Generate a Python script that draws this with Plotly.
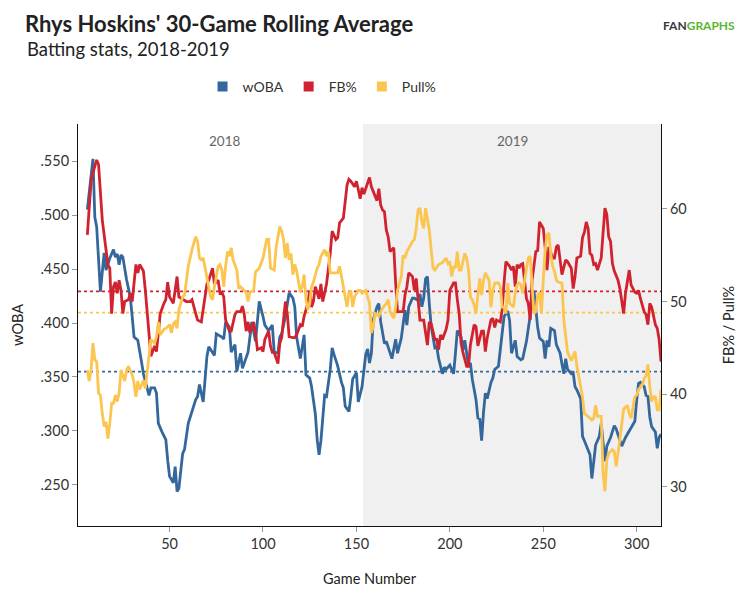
import plotly.graph_objects as go

# ---------------- data ----------------
woba_games = [6,9,10,11,13,15,16,18,20,21,22,23,24,25,27,29,30,31,33,34,35,36,37,39,40,42,43,44,46,48,49,50,52,53,54,55,57,58,60,62,64,65,66,68,70,71,74,75,78,79,
              80,82,83,85,86,88,89,92,93,94,96,97,98,100,101,103,105,106,108,109,110,112,114,116,117,118,120,122,123,125,126,128,129,130,131,133,134,136,137,138,
              140,142,143,144,146,147,148,150,151,153,154,155,156,157,158,159,161,162,163,164,165,166,168,169,171,172,174,176,177,178,180,181,183,184,185,186,187,188,189,190,
              192,193,194,196,197,198,200,201,202,203,204,206,207,208,210,211,212,214,215,216,217,218,219,220,222,223,224,226,228,229,231,232,233,235,236,238,239,241,242,244,
              245,247,248,250,251,252,253,254,256,257,259,260,261,262,263,265,266,267,268,270,271,272,274,275,276,277,278,280,281,283,284,286,288,289,290,292,294,295,297,299,
              300,301,302,304,305,306,307,308,310,311,312,313]
woba = [.505,.552,.498,.489,.429,.465,.449,.460,.468,.461,.464,.454,.463,.461,.440,.424,.406,.387,.384,.372,.364,.353,.347,.333,.340,.340,.335,.307,.299,.292,.273,.258,.252,.267,.244,.247,.279,.283,.307,.319,.329,.332,.343,.327,.369,.378,.370,.390,.387,.385,
        .401,.396,.373,.380,.355,.372,.358,.373,.390,.401,.383,.406,.420,.406,.398,.393,.398,.373,.372,.387,.390,.406,.428,.423,.415,.387,.367,.389,.352,.349,.341,.316,.292,.278,.291,.333,.332,.357,.377,.371,
        .360,.345,.340,.323,.318,.332,.348,.354,.327,.341,.354,.371,.376,.363,.372,.403,.415,.418,.401,.392,.381,.383,.371,.367,.385,.372,.386,.412,.398,.415,.423,.423,.421,.427,.415,.423,.441,.443,.418,.397,
        .377,.378,.367,.353,.359,.357,.361,.357,.353,.372,.393,.387,.375,.384,.360,.363,.348,.329,.312,.311,.291,.317,.335,.330,.345,.349,.357,.360,.393,.406,.411,.402,.372,.384,.369,.366,.367,.383,.395,.420,
        .430,.396,.386,.383,.367,.384,.378,.395,.393,.380,.372,.362,.353,.367,.357,.353,.354,.341,.338,.330,.295,.291,.281,.278,.256,.269,.287,.295,.307,.272,.286,.294,.305,.302,.297,.286,.294,.297,.303,.309,
        .329,.344,.345,.341,.333,.332,.313,.304,.299,.284,.294,.297]

fb_games = [6,7,8,9,11,12,13,14,16,17,18,19,20,21,22,23,24,25,26,28,29,30,32,33,34,36,37,38,39,40,42,43,44,45,47,48,49,50,52,53,54,55,57,59,61,62,64,65,67,68,
            70,71,73,74,76,77,78,79,80,82,83,85,86,88,89,90,91,92,93,95,96,97,99,100,101,103,104,105,106,108,109,110,111,112,113,114,116,117,118,120,121,122,124,125,126,127,128,130,131,132,
            134,135,136,137,139,140,141,143,144,145,146,147,149,150,151,152,153,154,156,157,158,160,161,162,163,164,165,166,167,168,170,171,172,173,175,176,177,178,180,181,182,183,184,186,187,188,189,190,192,193,
            194,195,196,198,199,200,202,203,204,205,206,207,209,210,211,213,214,215,217,218,219,220,222,223,224,225,227,228,229,230,232,233,234,235,236,237,238,239,241,242,243,244,246,247,248,250,251,252,253,255,
            256,257,258,259,260,262,263,265,266,267,268,270,271,272,273,274,275,276,277,278,279,281,282,283,284,285,286,287,288,290,291,292,293,294,295,296,297,299,300,301,302,304,305,306,307,308,310,311,312,313]
fb_pct = [57.2,60.3,63.0,63.9,65.3,64.8,61.5,58.8,55.6,54.0,53.6,48.7,51.6,52.1,50.9,52.3,51.2,48.7,50.0,50.2,50.9,50.0,54.0,53.1,54.0,53.3,51.3,49.1,46.2,44.1,45.2,44.6,46.6,48.7,49.8,50.2,52.1,50.5,49.8,51.6,52.7,50.5,50.2,50.0,50.0,50.2,48.7,48.0,47.8,49.1,
          51.9,52.3,53.6,51.9,52.3,50.9,51.0,50.5,48.0,46.8,46.8,48.6,48.9,48.9,49.5,48.6,46.8,47.8,46.6,47.8,46.6,44.8,45.0,44.6,45.9,46.8,45.2,44.5,44.5,43.3,45.5,46.1,48.0,50.0,48.7,46.2,46.1,46.1,46.4,47.5,47.3,48.4,49.8,51.2,49.4,50.0,51.6,50.3,51.9,50.0,
          51.9,53.6,55.2,57.6,56.7,56.9,58.5,59.0,61.0,62.6,63.2,63.0,62.4,63.0,62.1,61.1,62.3,61.6,62.8,63.4,62.4,61.3,60.9,62.2,60.4,59.9,59.7,57.7,57.0,55.4,55.8,52.0,48.9,48.9,48.9,50.7,51.6,53.1,52.7,51.2,52.5,50.2,48.0,48.0,46.8,45.3,47.8,47.6,45.9,45.9,
          44.8,46.4,45.9,47.0,48.0,51.2,52.0,52.0,50.2,48.7,45.5,44.5,43.0,43.0,45.3,47.5,47.3,45.2,46.8,46.8,44.6,46.1,48.0,48.2,47.2,48.0,47.8,49.1,52.0,54.3,53.8,53.4,53.8,51.6,54.0,53.6,54.0,54.1,50.3,49.8,48.0,52.3,55.4,55.5,58.6,57.9,55.9,53.4,55.9,54.7,
          54.7,55.9,56.1,54.5,52.9,54.5,54.3,53.6,51.4,52.7,54.7,54.9,56.9,57.5,58.6,57.9,55.2,55.0,54.0,54.1,53.4,54.7,57.6,60.1,59.4,57.0,56.5,54.1,53.3,52.3,51.4,50.2,48.7,50.9,52.1,53.4,51.8,51.0,50.9,51.2,50.3,48.9,48.6,47.5,49.8,49.4,47.5,47.1,45.9,43.5]

pull_games = [6,7,8,9,10,11,12,13,14,15,16,17,18,19,20,21,22,23,24,26,27,28,30,31,32,33,34,36,37,38,39,40,42,43,44,45,47,48,50,51,52,53,54,55,57,58,60,61,62,64,
              65,66,67,68,70,71,72,73,74,76,77,78,79,80,81,82,83,84,86,87,88,90,91,92,93,95,96,98,99,100,102,103,104,106,107,108,109,110,111,112,113,114,115,116,117,118,119,120,121,122,
              123,124,125,126,127,129,130,131,133,134,135,136,138,140,141,142,143,144,145,146,147,148,149,151,152,153,155,156,157,158,159,160,162,163,164,166,167,168,170,171,172,174,175,176,177,179,180,181,182,183,
              184,185,186,187,189,190,191,192,194,195,196,198,199,200,201,202,203,204,205,206,208,209,210,211,212,213,214,215,216,217,218,219,221,222,223,224,226,227,228,229,230,231,232,234,235,236,237,238,239,241,
              242,243,244,245,246,247,248,249,250,251,252,253,254,255,256,257,258,260,261,262,263,265,266,267,268,269,270,271,272,274,275,276,277,278,279,281,282,283,284,285,286,287,288,289,290,292,293,295,296,297,
              298,299,300,301,303,304,305,306,307,308,309,310,311,312,313]
pull_pct = [42.6,41.4,42.6,45.5,43.7,43.5,40.1,39.9,37.9,36.5,37.0,35.2,36.8,39.0,39.0,39.9,39.2,40.1,42.6,41.4,42.6,43.0,42.1,41.2,39.7,41.4,40.5,41.5,40.6,42.3,44.4,45.9,45.5,46.2,47.8,46.4,47.0,47.1,47.5,46.6,47.6,47.8,47.1,49.1,50.5,50.7,53.8,54.9,55.6,57.0,
            56.5,54.7,54.5,54.7,52.7,51.6,50.5,50.2,51.6,53.8,54.0,53.4,51.6,53.8,55.4,54.9,55.8,54.5,53.4,51.4,51.6,51.2,51.0,50.0,51.0,51.2,53.2,53.6,54.1,54.7,56.7,56.7,53.6,53.4,55.8,57.0,58.1,57.6,56.7,54.7,56.3,54.5,55.2,52.9,54.0,53.3,52.3,51.0,51.6,52.9,
            50.2,49.1,49.8,51.6,52.1,53.6,54.0,54.9,55.6,54.9,55.4,53.1,53.1,53.1,53.8,52.7,52.0,50.9,49.4,51.0,51.2,49.4,50.5,51.2,51.2,50.9,51.2,50.5,49.8,46.6,47.3,48.7,48.4,48.9,49.3,49.8,50.2,48.9,48.2,49.4,51.2,52.7,55.0,54.7,55.4,56.1,56.5,56.7,57.9,59.9,
            60.1,58.6,57.9,60.1,57.7,55.6,53.6,53.4,54.0,54.1,54.2,54.7,54.1,54.3,52.7,53.8,53.6,55.4,53.4,53.4,55.2,54.7,53.4,50.5,50.2,49.6,48.7,50.7,52.5,50.7,52.3,53.1,52.3,49.4,51.2,52.0,52.0,51.6,49.4,49.4,48.7,52.0,49.8,49.4,51.0,51.8,52.0,51.8,50.9,53.6,
            54.7,54.9,52.0,48.7,48.9,50.7,51.0,48.7,52.3,55.5,57.2,57.4,55.2,53.8,53.3,52.3,52.1,52.0,48.0,46.0,44.5,43.6,44.1,44.6,43.0,41.9,41.2,39.7,37.9,37.6,37.4,37.2,37.4,38.8,37.6,37.6,31.4,29.5,32.9,33.6,33.8,34.0,33.8,32.2,33.6,36.5,38.4,38.8,37.9,37.4,
            38.7,39.7,39.9,40.5,41.0,41.7,42.0,43.2,40.8,39.2,39.7,39.7,38.3,38.3,40.5]

woba_avg = 0.355
fb_avg = 51.1
pull_avg = 48.8

seasons = ["2018", "2019"]
season_label_x = [79.5, 233.5]
band_2019 = [153.5, 313]

woba_ticks = [0.25, 0.30, 0.35, 0.40, 0.45, 0.50, 0.55]
woba_tick_text = [".250", ".300", ".350", ".400", ".450", ".500", ".550"]
pct_ticks = [30, 40, 50, 60]
x_ticks = [50, 100, 150, 200, 250, 300]

BLUE = "#34679b"
RED = "#d1232f"
YELLOW = "#fbc550"
FONT = "Lato"

# the page body adds an 8px offset, so the figure is sized 8px smaller
W, H = 744, 591

fig = go.Figure()

fig.add_trace(go.Scatter(x=woba_games, y=woba, mode="lines", name="wOBA",
                         line=dict(color=BLUE, width=2.8), showlegend=False, yaxis="y"))
fig.add_trace(go.Scatter(x=fb_games, y=fb_pct, mode="lines", name="FB%",
                         line=dict(color=RED, width=2.8), showlegend=False, yaxis="y2"))
fig.add_trace(go.Scatter(x=pull_games, y=pull_pct, mode="lines", name="Pull%",
                         line=dict(color=YELLOW, width=2.8), showlegend=False, yaxis="y2"))

# legend entries (square swatches)
for nm, col in [("wOBA", BLUE), ("FB%", RED), ("Pull%", YELLOW)]:
    fig.add_trace(go.Scatter(x=[None], y=[None], mode="markers", name=nm,
                             marker=dict(symbol="square", size=10, color=col),
                             showlegend=True, yaxis="y"))

shapes = []
# 2019 band
shapes.append(dict(type="rect", xref="x", yref="paper", x0=band_2019[0], x1=band_2019[1],
                   y0=0, y1=1, fillcolor="#f0f0f0", line=dict(width=0), layer="below"))
# average lines
for val, col, yr in [(woba_avg, BLUE, "y"), (fb_avg, RED, "y2"), (pull_avg, YELLOW, "y2")]:
    shapes.append(dict(type="line", xref="paper", yref=yr, x0=0, x1=1, y0=val, y1=val,
                       line=dict(color=col, width=1.8, dash="dot"), layer="below"))

annotations = []
for s, xp in zip(seasons, season_label_x):
    annotations.append(dict(x=xp, y=0.958, xref="x", yref="paper",
                            text=s, showarrow=False, font=dict(family=FONT, size=13.5, color="#666666"),
                            xanchor="center", yanchor="middle"))
annotations.append(dict(x=-0.0909, y=1.1866, xref="paper", yref="paper", text="Batting stats, 2018-2019",
                        showarrow=False, font=dict(family=FONT, size=18.5, color="#222222"),
                        xanchor="left", yanchor="middle"))
annotations.append(dict(x=1.13, y=1.244, xref="paper", yref="paper",
                        text="<b><span style='color:#3a3a3a'>FAN</span><span style='color:#5cb531'>GRAPHS</span></b>",
                        showarrow=False, font=dict(family=FONT, size=12),
                        xanchor="right", yanchor="middle"))

axis_common = dict(showgrid=False, zeroline=False, showline=True, linecolor="#111111", linewidth=1,
                   ticks="outside", ticklen=5, tickcolor="#999999", automargin=False)

fig.update_layout(
    width=W, height=H,
    margin=dict(l=70, r=91, t=116, b=73, autoexpand=False),
    paper_bgcolor="white", plot_bgcolor="white",
    font=dict(family=FONT, size=14.5, color="#333333"),
    title=dict(text="<b>Rhys Hoskins' 30-Game Rolling Average</b>", xref="container", yref="container",
               x=17 / W, y=1 - 16 / H, xanchor="left", yanchor="middle",
               font=dict(family=FONT, size=22, color="#222222")),
    legend=dict(orientation="h", x=0.2136, y=1.092, xanchor="left", yanchor="middle",
                font=dict(family=FONT, size=14, color="#333333"), bgcolor="rgba(0,0,0,0)"),
    xaxis=dict(range=[1, 313], tickvals=x_ticks,
               title=dict(text="Game Number", standoff=22, font=dict(family=FONT, size=14.5, color="#222222")),
               **axis_common),
    yaxis=dict(range=[0.212, 0.5843], tickvals=woba_ticks, ticktext=woba_tick_text,
               title=dict(text="wOBA", standoff=13, font=dict(family=FONT, size=14.5, color="#222222")),
               **axis_common),
    yaxis2=dict(range=[25.75, 69.18], tickvals=pct_ticks, ticksuffix="%", overlaying="y", side="right",
                title=dict(text="FB% / Pull%", standoff=38, font=dict(family=FONT, size=14.5, color="#222222")),
                **axis_common),
    shapes=shapes,
    annotations=annotations,
    hovermode=False,
)

fig.write_html("out.html")
